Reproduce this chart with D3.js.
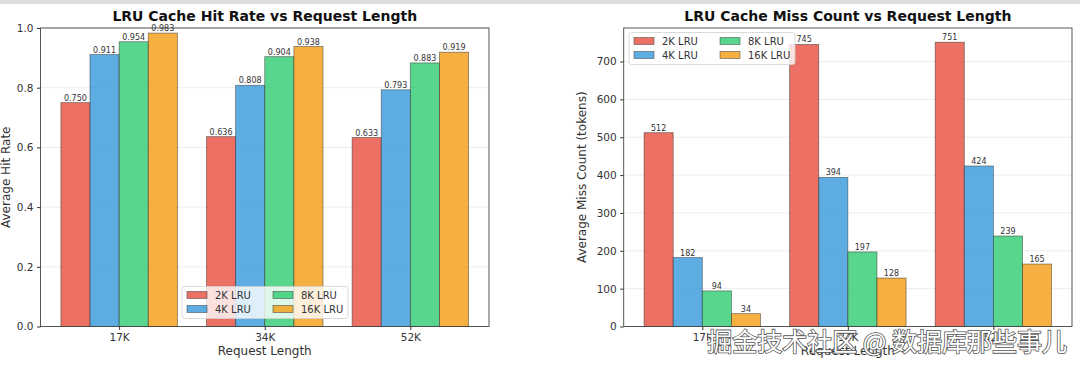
<!DOCTYPE html>
<html>
<head>
<meta charset="utf-8">
<script src="https://cdn.jsdelivr.net/npm/d3@7"></script>
<style>
    body { margin: 0; background: #fff; }
    svg { display: block; font-family: "DejaVu Sans", sans-serif; }
    .tick text { fill: #333; }
    .val_label { fill: #333; font-size: 8px; }
</style>
</head>
<body>
<div class="charts"></div>
<script>
const lengths = ["17K", "34K", "52K"]
const series = ["2K LRU", "4K LRU", "8K LRU", "16K LRU"]
const colors = ["#e74c3c", "#3498db", "#2ecc71", "#f39c12"]

const hitRate2K = [0.750, 0.636, 0.633]
const hitRate4K = [0.911, 0.808, 0.793]
const hitRate8K = [0.954, 0.904, 0.883]
const hitRate16K = [0.983, 0.938, 0.919]

const miss2K = [512, 745, 751]
const miss4K = [182, 394, 424]
const miss8K = [94, 197, 239]
const miss16K = [34, 128, 165]

const hitTicks = [0, 0.2, 0.4, 0.6, 0.8, 1.0]
const missTicks = [0, 100, 200, 300, 400, 500, 600, 700]

const svg = d3.select(".charts")
    .append("svg")
    .attr("width", 1080)
    .attr("height", 366)

// grey strip at the very top of the screenshot
svg.append("rect").attr("x", 0).attr("y", 0).attr("width", 1080).attr("height", 4).attr("fill", "#dedede")

function drawPanel(opts) {
    const { left, right, top, bottom } = opts
    const values = opts.values

    const x = d3.scaleLinear().domain([-0.54, 2.54]).range([left, right])
    const y = d3.scaleLinear().domain(opts.yDomain).range([bottom, top])
    const barW = x(0.2) - x(0)

    const g = svg.append("g")

    // gridlines
    g.selectAll(".grid")
        .data(opts.ticks)
        .join("line")
        .attr("x1", left).attr("x2", right)
        .attr("y1", d => y(d)).attr("y2", d => y(d))
        .attr("stroke", "#b0b0b0")
        .attr("stroke-opacity", 0.3)
        .attr("stroke-width", 0.8)

    // bars
    series.forEach((s, si) => {
        const offset = (si - 1.5) * 0.2
        const grp = g.append("g")
        grp.selectAll("rect")
            .data(values[si])
            .join("rect")
            .attr("x", (d, i) => x(i + offset) - barW / 2)
            .attr("y", d => y(d))
            .attr("width", barW)
            .attr("height", d => y(0) - y(d))
            .attr("fill", colors[si])
            .attr("fill-opacity", 0.8)
            .attr("stroke", "#333")
            .attr("stroke-opacity", 0.6)
            .attr("stroke-width", 0.8)

        grp.selectAll("text")
            .data(values[si])
            .join("text")
            .attr("class", "val_label")
            .attr("x", (d, i) => x(i + offset))
            .attr("y", d => y(d) - 2)
            .attr("text-anchor", "middle")
            .text(opts.fmt)
    })

    // axes
    const yAxis = d3.axisLeft(y).tickValues(opts.ticks).tickFormat(opts.tickFmt).tickSize(3.5).tickPadding(3.5)
    g.append("g")
        .attr("transform", `translate(${left},0)`)
        .call(yAxis)
        .call(a => a.select(".domain").remove())
        .call(a => a.selectAll("text").attr("font-size", 10.5).attr("font-family", "DejaVu Sans"))
        .call(a => a.selectAll("line").attr("stroke", "#333"))

    const xAxis = d3.axisBottom(x).tickValues([0, 1, 2]).tickFormat(i => lengths[i]).tickSize(3.5).tickPadding(3.5)
    g.append("g")
        .attr("transform", `translate(0,${bottom})`)
        .call(xAxis)
        .call(a => a.select(".domain").remove())
        .call(a => a.selectAll("text").attr("font-size", 10.5).attr("font-family", "DejaVu Sans"))
        .call(a => a.selectAll("line").attr("stroke", "#333"))

    // frame
    g.append("rect")
        .attr("x", left).attr("y", top)
        .attr("width", right - left).attr("height", bottom - top)
        .attr("fill", "none")
        .attr("stroke", "#444")
        .attr("stroke-width", 0.9)

    // title + labels
    g.append("text")
        .attr("x", (left + right) / 2).attr("y", top - 7)
        .attr("text-anchor", "middle")
        .attr("font-size", 14).attr("font-weight", "bold")
        .attr("fill", "#111")
        .text(opts.title)

    g.append("text")
        .attr("x", (left + right) / 2).attr("y", bottom + 28)
        .attr("text-anchor", "middle")
        .attr("font-size", 12)
        .attr("fill", "#333")
        .text("Request Length")

    g.append("text")
        .attr("transform", `translate(${opts.yLabelX},${(top + bottom) / 2}) rotate(-90)`)
        .attr("text-anchor", "middle")
        .attr("font-size", 12)
        .attr("fill", "#333")
        .text(opts.yLabel)

    // legend, 2 columns
    const lg = g.append("g").attr("transform", `translate(${opts.legendX},${opts.legendY})`)
    lg.append("rect")
        .attr("width", 166).attr("height", 32)
        .attr("rx", 2.5)
        .attr("fill", "#fff").attr("fill-opacity", 0.8)
        .attr("stroke", "#d0d0d0").attr("stroke-width", 0.8)
    series.forEach((s, si) => {
        const col = Math.floor(si / 2), row = si % 2
        const item = lg.append("g").attr("transform", `translate(${5 + col * 86},${5 + row * 14})`)
        item.append("rect")
            .attr("width", 20).attr("height", 7)
            .attr("fill", colors[si]).attr("fill-opacity", 0.8)
            .attr("stroke", "#333").attr("stroke-opacity", 0.6).attr("stroke-width", 0.8)
        item.append("text")
            .attr("x", 28).attr("y", 7.5)
            .attr("font-size", 10)
            .attr("fill", "#333")
            .text(s)
    })
}

drawPanel({
    left: 40.5, right: 489, top: 28, bottom: 326.5,
    values: [hitRate2K, hitRate4K, hitRate8K, hitRate16K],
    yDomain: [0, 1],
    ticks: hitTicks,
    tickFmt: d3.format(".1f"),
    fmt: d3.format(".3f"),
    title: "LRU Cache Hit Rate vs Request Length",
    yLabel: "Average Hit Rate",
    yLabelX: 10,
    legendX: 182, legendY: 286.5
})

drawPanel({
    left: 623.7, right: 1072, top: 28, bottom: 326.5,
    values: [miss2K, miss4K, miss8K, miss16K],
    yDomain: [0, 751 * 1.05],
    ticks: missTicks,
    tickFmt: d3.format("d"),
    fmt: d3.format("d"),
    title: "LRU Cache Miss Count vs Request Length",
    yLabel: "Average Miss Count (tokens)",
    yLabelX: 586,
    legendX: 629, legendY: 32.5
})

// watermark
svg.append("text")
    .attr("x", 1067).attr("y", 351)
    .attr("text-anchor", "end")
    .attr("font-family", "Noto Sans CJK SC")
    .attr("font-size", 25)
    .attr("fill", "#fff")
    .attr("stroke", "#555")
    .attr("stroke-width", 1.6)
    .attr("paint-order", "stroke")
    .text("掘金技术社区 @ 数据库那些事儿")
</script>
</body>
</html>
